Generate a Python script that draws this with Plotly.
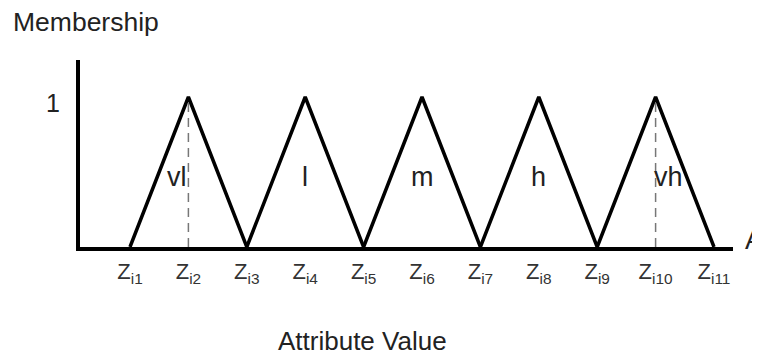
import plotly.graph_objects as go

# attribute breakpoints Zi1..Zi11 (evenly spaced)
z_points = [1, 2, 3, 4, 5, 6, 7, 8, 9, 10, 11]
z_labels = ["Z<sub>i1</sub>", "Z<sub>i2</sub>", "Z<sub>i3</sub>", "Z<sub>i4</sub>",
            "Z<sub>i5</sub>", "Z<sub>i6</sub>", "Z<sub>i7</sub>", "Z<sub>i8</sub>",
            "Z<sub>i9</sub>", "Z<sub>i10</sub>", "Z<sub>i11</sub>"]

# linguistic terms, each a triangle (left, peak, right)
terms = ["vl", "l", "m", "h", "vh"]
tri_membership = [0, 1, 0]

# peaks that get a dashed drop line
dashed_peaks = [2, 10]

FONT = "Liberation Sans, Arial, sans-serif"

# page body has an 8px margin, so the figure is offset on screen
OFF = 8
L, T, W, H = 72, 52, 653, 187


def px(sx):
    return (sx - OFF - L) / W


def py(sy):
    return (T + H - (sy - OFF)) / H


def main():
    fig = go.Figure()

    #triangles
    for k, term in enumerate(terms):
        xs = z_points[2 * k:2 * k + 3]
        fig.add_trace(go.Scatter(x=xs, y=tri_membership, mode="lines", name=term,
                                 line=dict(color="black", width=3.5),
                                 hoverinfo="skip", showlegend=False))

    #dashed drop lines
    for p in dashed_peaks:
        fig.add_trace(go.Scatter(x=[p, p], y=[0, 1], mode="lines",
                                 line=dict(color="#777", width=1.5, dash="9px,6px"),
                                 hoverinfo="skip", showlegend=False))

    #term labels
    for k, term in enumerate(terms):
        peak = z_points[2 * k + 1]
        shift = -11 if term == "vl" else (13 if term == "vh" else 0)
        fig.add_annotation(x=peak, y=0.47, text=term, showarrow=False, xshift=shift,
                           font=dict(size=27, color="#222", family=FONT))

    #"1" on membership axis
    fig.add_annotation(x=0, y=1, xref="paper", yref="y", text="1", showarrow=False,
                       xanchor="right", xshift=-18, yshift=-6,
                       font=dict(size=25, color="#222", family=FONT))

    # axis titles as free text
    fig.add_annotation(x=px(11), y=py(22), xref="paper", yref="paper",
                       xanchor="left", yanchor="middle", text="Membership", showarrow=False,
                       font=dict(size=26.5, color="#222", family=FONT))
    fig.add_annotation(x=px(362), y=py(341), xref="paper", yref="paper",
                       xanchor="center", yanchor="middle", text="Attribute Value",
                       showarrow=False, font=dict(size=26, color="#222", family=FONT))
    fig.add_annotation(x=px(743), y=py(240), xref="paper", yref="paper",
                       xanchor="left", yanchor="middle", text="A", showarrow=False,
                       font=dict(size=27, color="#222", family=FONT))

    fig.update_layout(
        width=760, height=358,
        margin=dict(l=L, r=760 - L - W, t=T, b=358 - T - H),
        paper_bgcolor="white", plot_bgcolor="white",
        font=dict(family=FONT, color="#222"),
        showlegend=False,
    )

    fig.update_xaxes(range=[1 - 50 / 58.4, 11 + 19 / 58.4], showgrid=False, zeroline=False,
                     showline=True, linecolor="black", linewidth=4,
                     tickvals=z_points, ticktext=z_labels, ticks="",
                     ticklabelstandoff=2,
                     tickfont=dict(size=22, color="#333", family=FONT))
    fig.update_yaxes(range=[0, 187 / 150], showgrid=False, zeroline=False,
                     showline=True, linecolor="black", linewidth=3.5,
                     showticklabels=False, ticks="")

    fig.write_html("out.html")


if __name__ == '__main__':
    main()
